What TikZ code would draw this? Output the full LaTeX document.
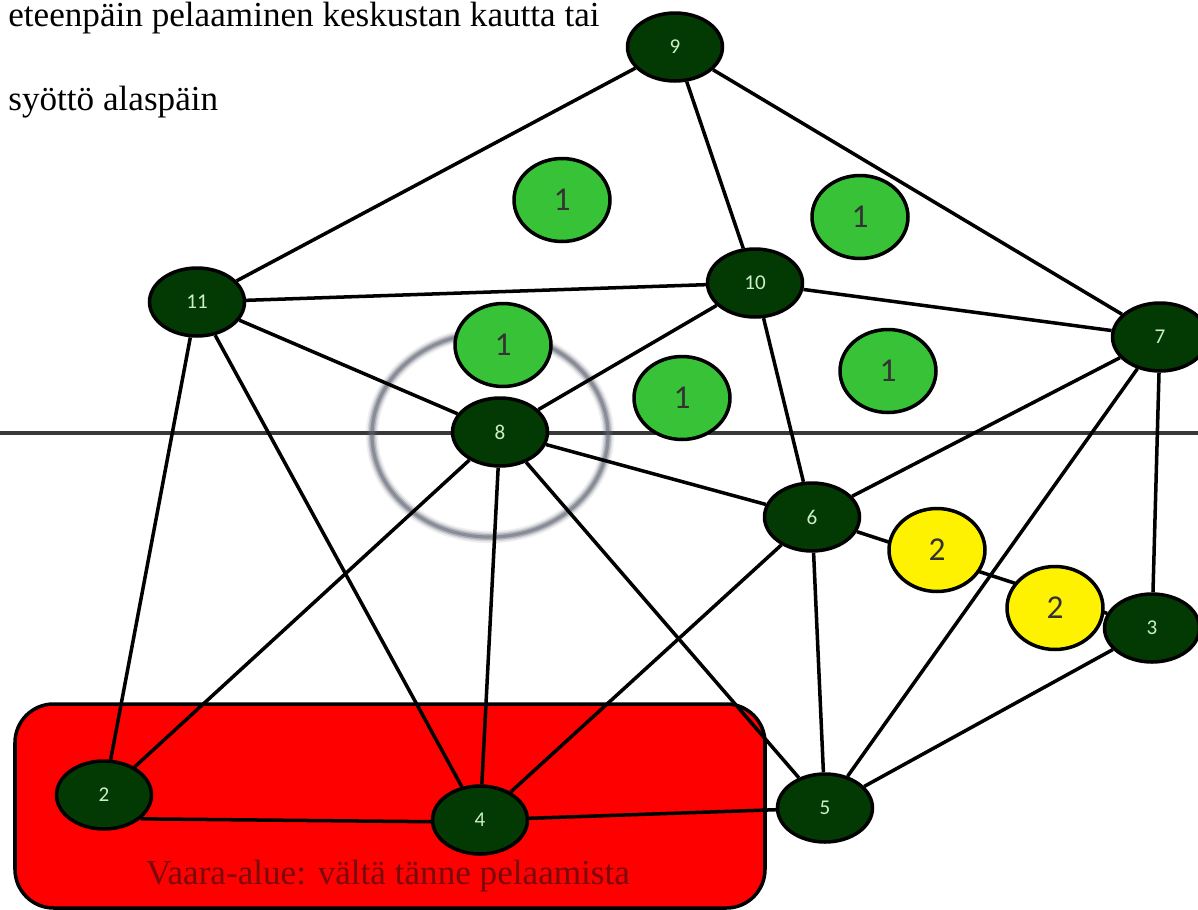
\documentclass[tikz,border=0pt]{standalone}
\usepackage{fontspec}
\setmainfont{Liberation Serif}
\newfontfamily\labelfont{Carlito}
\usetikzlibrary{shapes.geometric}
\pgfdeclarelayer{pitch}
\pgfdeclarelayer{lanes}
\pgfsetlayers{pitch,lanes,main}
\definecolor{darknode}{HTML}{033A03}
\definecolor{darklabel}{HTML}{CDEFC8}
\definecolor{greennode}{HTML}{38C238}
\definecolor{zonered}{HTML}{FF0000}
\definecolor{zonetext}{HTML}{7A0A0A}
\definecolor{ringgray}{HTML}{5C6270}
\tikzset{
  player/.style={ellipse, draw=black, line width=2pt, fill=darknode, inner sep=0pt,
    minimum width=1.9cm, minimum height=1.36cm, text=darklabel, font=\labelfont\fontsize{12}{12}\selectfont},
  opponent/.style={ellipse, draw=black, line width=2pt, fill=greennode, inner sep=0pt,
    minimum width=1.92cm, minimum height=1.66cm, text=black!80, font=\labelfont\fontsize{19}{19}\selectfont},
  helper/.style={opponent, fill=yellow},
  link/.style={line width=2pt, black},
  caption/.style={anchor=base west, inner sep=0pt, font=\fontsize{20}{22}\selectfont},
}
\begin{document}
\begin{tikzpicture}[x=0.02cm, y=-0.02cm]
\useasboundingbox (0,0) rectangle (1198,910);

% caption
\node[caption] (cap1) at (8,26) {eteenpäin pelaaminen keskustan kautta tai};
\node[caption] (cap2) at (8,110) {syöttö alaspäin};

% players
\node[player] (n9)  at (675,47)  {9};
\node[player] (n11) at (197,302) {11};
\node[player] (n10) at (755,283) {10};
\node[player] (n7)  at (1160,337) {7};
\node[player] (n8)  at (500,432) {8};
\node[player] (n6)  at (812,517) {6};
\node[player] (n3)  at (1152,628) {3};
\node[player] (n5)  at (825,808) {5};
\node[player] (n4)  at (480,820) {4};
\node[player] (n2)  at (104,795) {2};

% opponents
\node[opponent] (o1) at (562,200) {1};
\node[opponent] (o2) at (860,217) {1};
\node[opponent] (o3) at (503,345) {1};
\node[opponent] (o4) at (682,398) {1};
\node[opponent] (o5) at (888,371) {1};

% supporting players
\node[helper] (y1) at (937,550) {2};
\node[helper] (y2) at (1055,608) {2};

% danger zone, halfway line and centre circle
\begin{pgfonlayer}{pitch}
  \fill[white] (0,0) rectangle (1198,910);
  \draw[line width=2pt, fill=zonered, rounded corners=22] (15,704) rectangle (765,908);
  \node[anchor=base, text=zonetext, inner sep=0pt, font=\fontsize{20}{22}\selectfont] (zone) at (388,884) {Vaara-alue: vältä tänne pelaamista};
  \draw[line width=2.6pt, black!78] (0,433) -- (1198,433);
  \foreach \w/\o in {7pt/0.10, 5pt/0.18, 3.4pt/0.3, 1.8pt/0.45}
    \draw[ringgray, line width=\w, opacity=\o] (490,435) ellipse [x radius=118, y radius=102];
\end{pgfonlayer}

% passing lanes
\begin{pgfonlayer}{lanes}
  \foreach \a/\b in {n9/n11, n9/n10, n9/n7, n11/n10, n11/n8, n11/n2, n11/n4,
                     n10/n7, n10/n8, n10/n6, n7/n6, n7/n5, n7/n3,
                     n8/n6, n8/n2, n8/n4, n8/n5, n6/n4, n6/n5, n6/n3,
                     n3/n5, n4/n5}
    \draw[link] (\a) -- (\b);
  \draw[link] (n2.-33) -- (n4.182);
\end{pgfonlayer}
\end{tikzpicture}
\end{document}
